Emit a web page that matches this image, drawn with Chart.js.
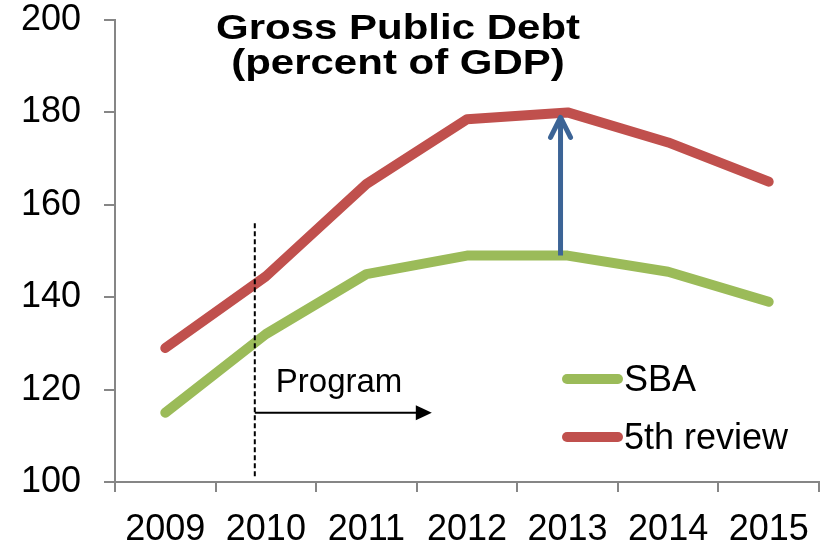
<!DOCTYPE html>
<html>
<head>
<meta charset="utf-8">
<script src="https://cdn.jsdelivr.net/npm/chart.js@4.4.1/dist/chart.umd.min.js"></script>
<style>
  html, body { margin: 0; padding: 0; background: #fff; }
  #wrap { width: 829px; height: 546px; }
</style>
</head>
<body>
<div id="wrap"><canvas id="chart" width="829" height="546"></canvas></div>
<script>
// Data
var YEARS = ['2009', '2010', '2011', '2012', '2013', '2014', '2015'];
var SBA = [115, 132, 145, 149, 149, 145.5, 139];
var FIFTH_REVIEW = [129, 144.5, 164.5, 178.5, 180, 173.5, 165];
var SERIES_NAMES = ['SBA', '5th review'];
var TITLE_LINES = ['Gross Public Debt', '(percent of GDP)'];
var PROGRAM_LABEL = 'Program';

// Annotation anchors, in data units (category index, value)
var PROGRAM_START = 0.89;
var PROGRAM_END = 2.65;
var PROGRAM_ARROW_Y = 115;
var PROGRAM_LINE_TOP = 156;
var SHIFT_X = 3.93;

var GREEN = '#9BBB59';
var RED = '#C0504D';
var BLUE = '#3C6496';
var AXIS = '#868686';
var FONT = '"Liberation Sans", Arial, sans-serif';

// draws title, program marker, blue arrow and the legend
var extras = {
  id: 'extras',
  afterDatasetsDraw: function (chart) {
    var ctx = chart.ctx;
    var x = chart.scales.x, y = chart.scales.y;

    ctx.save();

    // TITLE (a bit wider than plain text, like the original)
    ctx.fillStyle = '#000';
    ctx.font = 'bold 35px ' + FONT;
    ctx.textAlign = 'center';
    ctx.textBaseline = 'alphabetic';
    [39, 74].forEach(function (base, i) {
      ctx.save();
      ctx.translate(398, base);
      ctx.scale(1.2, 1);
      ctx.fillText(TITLE_LINES[i], 0, 0);
      ctx.restore();
    });

    // PROGRAM START LINE
    var px = x.getPixelForValue(PROGRAM_START);
    ctx.strokeStyle = '#000';
    ctx.lineWidth = 2;
    ctx.setLineDash([5, 3]);
    ctx.beginPath();
    ctx.moveTo(px, y.getPixelForValue(PROGRAM_LINE_TOP));
    ctx.lineTo(px, y.bottom - 4);
    ctx.stroke();
    ctx.setLineDash([]);

    // PROGRAM ARROW
    var ay = y.getPixelForValue(PROGRAM_ARROW_Y);
    var ax2 = x.getPixelForValue(PROGRAM_END);
    ctx.beginPath();
    ctx.moveTo(px, ay);
    ctx.lineTo(ax2 - 12, ay);
    ctx.stroke();
    ctx.fillStyle = '#000';
    ctx.beginPath();
    ctx.moveTo(ax2, ay);
    ctx.lineTo(ax2 - 16, ay - 7.5);
    ctx.lineTo(ax2 - 16, ay + 7.5);
    ctx.closePath();
    ctx.fill();

    ctx.font = '33px ' + FONT;
    ctx.textAlign = 'left';
    ctx.fillText(PROGRAM_LABEL, px + 21, ay - 21);

    // BLUE ARROW (SBA -> 5th review)
    var bx = x.getPixelForValue(SHIFT_X);
    var by0 = y.getPixelForValue(SBA[4]);
    var by1 = y.getPixelForValue(FIFTH_REVIEW[4]) + 3;
    ctx.strokeStyle = BLUE;
    ctx.lineWidth = 5;
    ctx.beginPath();
    ctx.moveTo(bx, by0);
    ctx.lineTo(bx, by1 + 2);
    ctx.stroke();
    ctx.lineCap = 'round';
    ctx.lineJoin = 'round';
    ctx.beginPath();
    ctx.moveTo(bx - 10, by1 + 22);
    ctx.lineTo(bx, by1 + 2);
    ctx.lineTo(bx + 10, by1 + 22);
    ctx.stroke();

    // LEGEND
    ctx.font = '36px ' + FONT;
    ctx.textBaseline = 'middle';
    chart.data.datasets.forEach(function (ds, i) {
      var ly = 379 + i * 58;
      ctx.strokeStyle = ds.borderColor;
      ctx.lineWidth = 10;
      ctx.lineCap = 'round';
      ctx.beginPath();
      ctx.moveTo(567, ly);
      ctx.lineTo(618, ly);
      ctx.stroke();
      ctx.fillStyle = '#000';
      ctx.fillText(ds.label, 624, ly + 2);
    });

    ctx.restore();
  }
};

var chart = new Chart(document.getElementById('chart'), {
  type: 'line',
  data: {
    labels: YEARS,
    datasets: [
      { label: SERIES_NAMES[0], data: SBA, borderColor: GREEN },
      { label: SERIES_NAMES[1], data: FIFTH_REVIEW, borderColor: RED }
    ]
  },
  options: {
    responsive: false,
    animation: false,
    layout: { padding: { top: 0, right: 10, left: 0, bottom: 0 } },
    elements: {
      line: { borderWidth: 10, borderCapStyle: 'round', borderJoinStyle: 'round', tension: 0, fill: false },
      point: { radius: 0, hoverRadius: 0 }
    },
    plugins: {
      legend: { display: false },
      tooltip: { enabled: false },
      title: { display: false }
    },
    scales: {
      x: {
        offset: true,
        grid: { offset: true, drawOnChartArea: false, tickLength: 10, color: AXIS, lineWidth: 2 },
        border: { color: AXIS, width: 2 },
        ticks: { color: '#000', font: { family: FONT, size: 36 }, padding: 16, maxRotation: 0, autoSkip: false },
        afterFit: function (s) { s.height = 64; s.paddingLeft = 0; s.paddingRight = 0; }
      },
      y: {
        min: 100,
        max: 200,
        grid: { drawOnChartArea: false, tickLength: 11, color: AXIS, lineWidth: 2 },
        border: { color: AXIS, width: 2 },
        ticks: { stepSize: 20, color: '#000', font: { family: FONT, size: 36 }, padding: 23 },
        afterFit: function (s) { s.width = 115; s.paddingTop = 20; s.paddingBottom = 0; }
      }
    }
  },
  plugins: [extras]
});
</script>
</body>
</html>
